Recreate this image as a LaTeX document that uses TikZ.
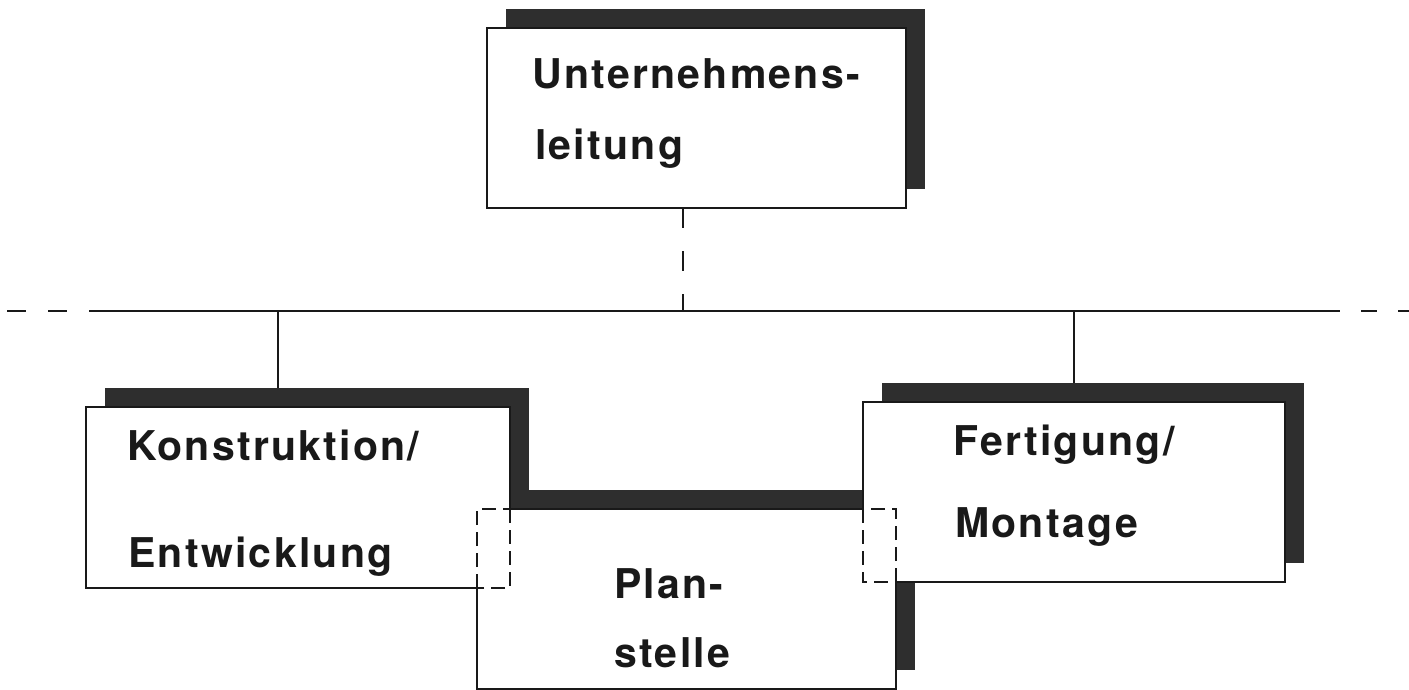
\documentclass[tikz,border=0pt]{standalone}
\usepackage{fontspec}
\newfontfamily\lab[LetterSpace=5.5]{TeX Gyre Heros}
\begin{document}
\begin{tikzpicture}[x=1pt,y=-1pt,
  box/.style={rectangle,draw=none,fill=white,inner sep=0pt,outer sep=0pt,anchor=north west},
  shade/.style={fill=black!82},
  edge/.style={line width=1.5pt,black!90},
  hidden/.style={edge,dash pattern=on 14pt off 7pt},
  txt/.style={anchor=base west,inner sep=0pt,font=\lab\bfseries\fontsize{41}{48}\selectfont,text=black!90}]
\useasboundingbox (0,0) rectangle (1409,690);

% organisation units (white areas only; borders are drawn below)
\node[box,minimum width=419pt,minimum height=180pt] (U) at (487,28) {};
\node[box,minimum width=424pt,minimum height=181pt] (K) at (86,407) {};
\node[box,minimum width=422pt,minimum height=180pt] (F) at (863,402) {};
\node[box,minimum width=419pt,minimum height=180pt] (P) at (477,509) {};

% drop shadows, offset up and to the right
\foreach \b in {U,K,F,P}
  \fill[shade] ([shift={(19,-19)}]\b.south west) rectangle ([shift={(19,-19)}]\b.north east);

% white faces on top of all shadows
\foreach \b in {U,K,F,P}
  \fill[white] (\b.south west) rectangle (\b.north east);

% borders of the single boxes
\draw[edge] (U.south west) rectangle (U.north east);

% Konstruktion/Entwicklung: part inside the staff box is dashed
\draw[edge] (K.east |- P.north) -- (K.north east) -- (K.north west)
  -- (K.south west) -- (K.south -| P.west);
\draw[hidden] (K.east |- P.north) -- (K.south east) -- (K.south -| P.west);

% Fertigung/Montage: part inside the staff box is dashed
\draw[edge] (F.west |- P.north) -- (F.north west) -- (F.north east)
  -- (F.south east) -- (F.south -| P.east);
\draw[hidden] (F.west |- P.north) -- (F.south west) -- (F.south -| P.east);

% Planstelle
\draw[edge] (P.north -| K.east) -- (P.north -| F.west);
\draw[edge] (P.west |- K.south) -- (P.south west) -- (P.south east) -- (P.east |- F.south);
\draw[hidden] (P.west |- K.south) -- (P.north west) -- (P.north -| K.east);
\draw[hidden] (P.east |- F.south) -- (P.north east) -- (P.north -| F.west);

% texts
\node[txt] (tU1) at (532,89) {Unternehmens-};
\node[txt] (tU2) at (535,160) {leitung};
\node[txt] (tK1) at (127,460) {Konstruktion/};
\node[txt] (tK2) at (128,567) {Entwicklung};
\node[txt] (tF1) at (953,455) {Fertigung/};
\node[txt] (tF2) at (955,537) {Montage};
\node[txt] (tP1) at (614,598) {Plan-};
\node[txt] (tP2) at (614,667) {stelle};

% connector points
\coordinate (uDrop) at (U.south -| 683,0);
\coordinate (hub) at (683,311);
\coordinate (lineL) at (92,311);
\coordinate (lineR) at (1340,311);
\coordinate (dashL) at (7,311);
\coordinate (dashR) at (1409,311);
\coordinate (kTop) at (278,311);
\coordinate (fTop) at (1074,311);
\path (K.north -| kTop) ++(0,-19) coordinate (kShadow);
\path (F.north -| fTop) ++(0,-19) coordinate (fShadow);

% connectors
\draw[edge,dash pattern=on 20pt off 23pt] (uDrop) -- (hub);
\draw[edge] (lineL) -- (lineR);
\draw[edge,dash pattern=on 19pt off 22pt] (dashL) -- (lineL);
\draw[edge,dash pattern=on 16pt off 21pt] ([xshift=21pt]lineR) -- (dashR);
\draw[edge] (kTop) -- (kShadow);
\draw[edge] (fTop) -- (fShadow);
\end{tikzpicture}
\end{document}
